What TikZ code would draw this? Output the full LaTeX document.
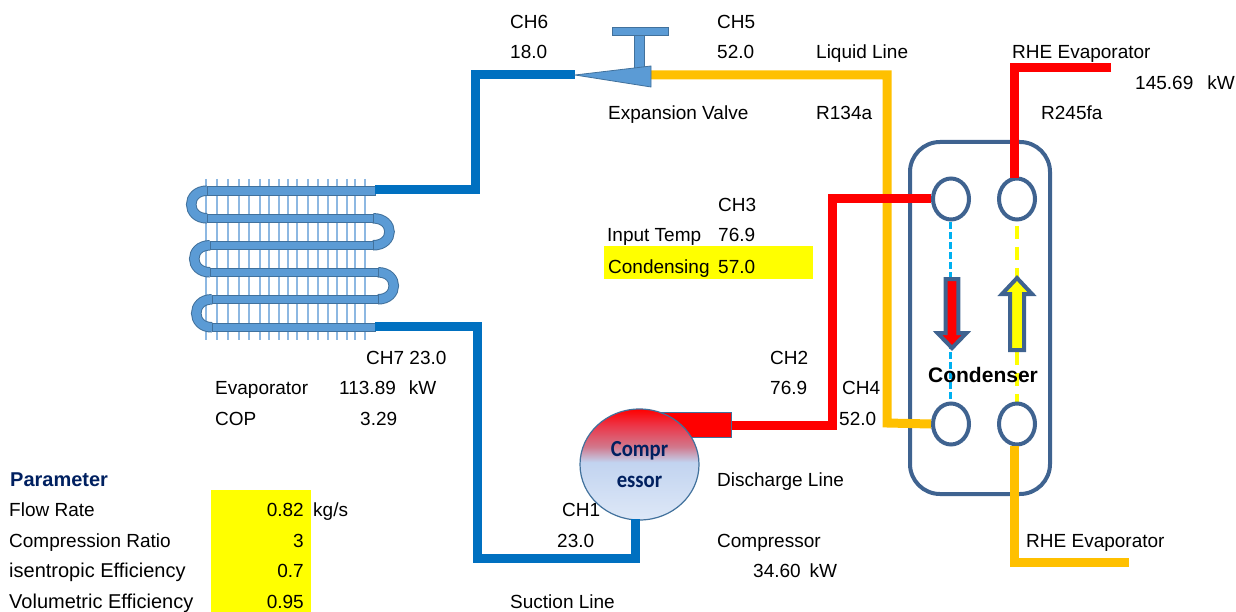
\documentclass[tikz,border=0pt]{standalone}
\usepackage{fontspec}
\setmainfont{Liberation Sans}
\newfontfamily\compfont[FakeStretch=0.9]{Carlito}
\usetikzlibrary{shapes.geometric}
\definecolor{pipeblue}{HTML}{0070C0}
\definecolor{pipeorange}{HTML}{FFC000}
\definecolor{pipered}{RGB}{255,0,0}
\definecolor{brightyellow}{RGB}{255,255,0}
\definecolor{dashcyan}{HTML}{00B0F0}
\definecolor{tubecore}{HTML}{5B9BD5}
\definecolor{tubeedge}{HTML}{41719C}
\definecolor{finblue}{HTML}{8DB8E2}
\definecolor{condline}{HTML}{3F6390}
\definecolor{darknavy}{HTML}{002060}
\pgfdeclareverticalshading{compshade}{100bp}{rgb(0bp)=(.87,.91,.97);rgb(25bp)=(.87,.91,.97);rgb(51bp)=(.76,.83,.94);rgb(58bp)=(.82,.47,.55);rgb(68bp)=(.93,.2,.27);rgb(75bp)=(1,0,0);rgb(100bp)=(1,0,0)}
\tikzset{
    lbl/.style={anchor=base west,inner sep=0pt,yshift=1pt,font=\fontsize{19}{24}\selectfont},
    lblwide/.style={anchor=base west,inner sep=0pt,yshift=1pt,font=\fontsize{20}{24}\selectfont},
    numr/.style={anchor=base east,inner sep=0pt,yshift=1pt,font=\fontsize{19}{24}\selectfont},
    pipe/.style={line width=9pt,line join=miter},
    port/.style={ellipse,draw=condline,line width=4pt,fill=white,minimum width=36pt,minimum height=41pt,inner sep=0pt},
    tubeseg/.style={draw=tubeedge,fill=tubecore,line width=.8pt},
    flowarrow/.style={draw=condline,line width=4pt,line join=miter}
}
\begin{document}
\begin{tikzpicture}[x=1pt,y=-1pt]
    \useasboundingbox (0,0) rectangle (1236,612);
    \fill[brightyellow] (604,246) rectangle (813,279);
    \fill[brightyellow] (211,490) rectangle (311,612);
    \foreach \finx in {206,217,228,239,249,260,269,279,288,297,308,318,328,337,347,355,365}
        \draw[finblue,line width=1.6pt] (\finx,179) -- (\finx,340);
    \foreach \xa/\ya/\yb/\bend in {207/190.7/218.3/-21,210/245.3/272.3/-21,212/299.3/327.3/-21,373/218.3/245.3/22,378/272.3/299.3/21} {
        \draw[tubeedge,line width=10.5pt] (\xa,\ya) .. controls ({\xa+\bend},\ya) and ({\xa+\bend},\yb) .. (\xa,\yb);
        \draw[tubecore,line width=8.5pt] (\xa,\ya) .. controls ({\xa+\bend},\ya) and ({\xa+\bend},\yb) .. (\xa,\yb);
    }
    \foreach \xa/\xb/\yc in {207/375/190.7,207/373/218.3,210/373/245.3,210/378/272.3,212/378/299.3,212/375/327.3}
        \draw[tubeseg] (\xa,\yc-4.3) rectangle (\xb,\yc+4.3);
    \coordinate (evapout) at (375,190);
    \coordinate (evapin) at (375,326);
    \draw[tubeseg] (634,35) rectangle (644,68);
    \draw[tubeseg] (612,27) rectangle (668,35);
    \node[draw=condline,line width=4pt,rounded corners=30pt,minimum width=140pt,minimum height=352pt,inner sep=0pt] (condenser) at (980,318) {};
    \draw[dashcyan,line width=3pt,dash pattern=on 7pt off 3pt] (950,222) -- (950,402);
    \draw[brightyellow,line width=4pt,dash pattern=on 13pt off 8pt] (1017,226) -- (1017,402);
    \node[port] (porta) at (951,199) {};
    \node[port] (portb) at (1017,199) {};
    \node[port] (portc) at (951,424) {};
    \node[port] (portd) at (1017,424) {};
    \coordinate (valvetip) at (575,75);
    \coordinate (valveback) at (651,75);
    \draw[pipe,pipeorange] (valveback) -- (887,75) -- (887,423) -- (portc.west);
    \draw[pipe,pipeorange] (1014,446) -- (1014,562) -- (1129,562);
    \draw[pipe,pipeblue] (evapout) -- (475,190) -- (475,75) -- (valvetip);
    \draw[tubeseg] (valvetip) -- (651,66) -- (651,87) -- cycle;
    \node[draw=tubeedge,fill=pipered,line width=1pt,minimum width=71pt,minimum height=25pt,inner sep=0pt] (dischargebox) at (695.5,425) {};
    \node[ellipse,shade,shading=compshade,draw=tubeedge,line width=1.2pt,minimum width=119pt,minimum height=111pt,inner sep=0pt,align=center,text=darknavy,font=\compfont\bfseries\fontsize{23}{31}\selectfont] (compressor) at (639.5,464.5) {Compr\\essor};
    \coordinate (compin) at (635,519);
    \draw[pipe,pipeblue] (evapin) -- (477,326) -- (477,558) -- (635,558) -- (compin);
    \draw[pipe,pipered] (dischargebox.east) -- (832,425) -- (832,199) -- (porta.west);
    \draw[pipe,pipered] (1111,68) -- (1014,68) -- (1014,178);
    \draw[flowarrow,fill=pipered] (945.7,279) -- (958.3,279) -- (958.3,333) -- (966.5,333) -- (952,348) -- (937.5,333) -- (945.7,333) -- cycle;
    \draw[flowarrow,fill=brightyellow] (1010,350) -- (1024,350) -- (1024,294) -- (1032,294) -- (1017,278) -- (1002,294) -- (1010,294) -- cycle;
    \node[anchor=base,inner sep=0pt,font=\bfseries\fontsize{21}{24}\selectfont] (condlabel) at (983,382) {Condenser};
    \node[lbl] (chsix) at (510,30) {CH6};
    \node[lbl] (chsixval) at (510,60) {18.0};
    \node[lbl] (chfive) at (717,30) {CH5};
    \node[lbl] (chfiveval) at (717,60) {52.0};
    \node[lbl] (liquid) at (816,60) {Liquid Line};
    \node[lbl] (rheup) at (1012,60) {RHE Evaporator};
    \node[lbl] (rheload) at (1135,91) {145.69\hspace{14pt}kW};
    \node[lbl] (rtwo) at (1041,121) {R245fa};
    \node[lbl] (expvalve) at (608,121) {Expansion Valve};
    \node[lbl] (rone) at (816,121) {R134a};
    \node[lbl] (chthree) at (718,213) {CH3};
    \node[lbl] (inputtemp) at (607,243) {Input Temp};
    \node[lbl] (inputval) at (718,243) {76.9};
    \node[lbl] (condensing) at (608,274) {Condensing};
    \node[lbl] (condensingval) at (718,274) {57.0};
    \node[lbl] (chtwo) at (770,365) {CH2};
    \node[lbl] (chtwoval) at (770,395) {76.9};
    \node[lbl] (chfour) at (842,395) {CH4};
    \node[lbl] (chfourval) at (839,426) {52.0};
    \node[lbl] (chseven) at (366,365) {CH7 23.0};
    \node[lbl] (evaplabel) at (215,395) {Evaporator};
    \node[lbl] (evapval) at (339,395) {113.89\hspace{13pt}kW};
    \node[lbl] (coplabel) at (215,426) {COP};
    \node[lbl] (copval) at (360,426) {3.29};
    \node[lbl] (discharge) at (717,487) {Discharge Line};
    \node[lbl] (chone) at (562,517) {CH1};
    \node[lbl] (choneval) at (557,548) {23.0};
    \node[lbl] (complabel) at (717,548) {Compressor};
    \node[lbl] (compval) at (753,578) {34.60\hspace{9pt}kW};
    \node[lbl] (rhedown) at (1026,548) {RHE Evaporator};
    \node[lbl] (suction) at (510,609) {Suction Line};
    \node[lbl,text=darknavy,font=\bfseries\fontsize{20}{24}\selectfont] (parameter) at (10,487) {Parameter};
    \node[lbl] (flowrate) at (9,517) {Flow Rate};
    \node[numr] (flowval) at (304,517) {0.82};
    \node[lbl] (flowunit) at (313,517) {kg/s};
    \node[lbl] (ratio) at (9,548) {Compression Ratio};
    \node[numr] (ratioval) at (304,548) {3};
    \node[lblwide] (isen) at (9,578) {isentropic Efficiency};
    \node[numr] (isenval) at (304,578) {0.7};
    \node[lblwide] (volu) at (9,609) {Volumetric Efficiency};
    \node[numr] (voluval) at (304,609) {0.95};
\end{tikzpicture}
\end{document}
